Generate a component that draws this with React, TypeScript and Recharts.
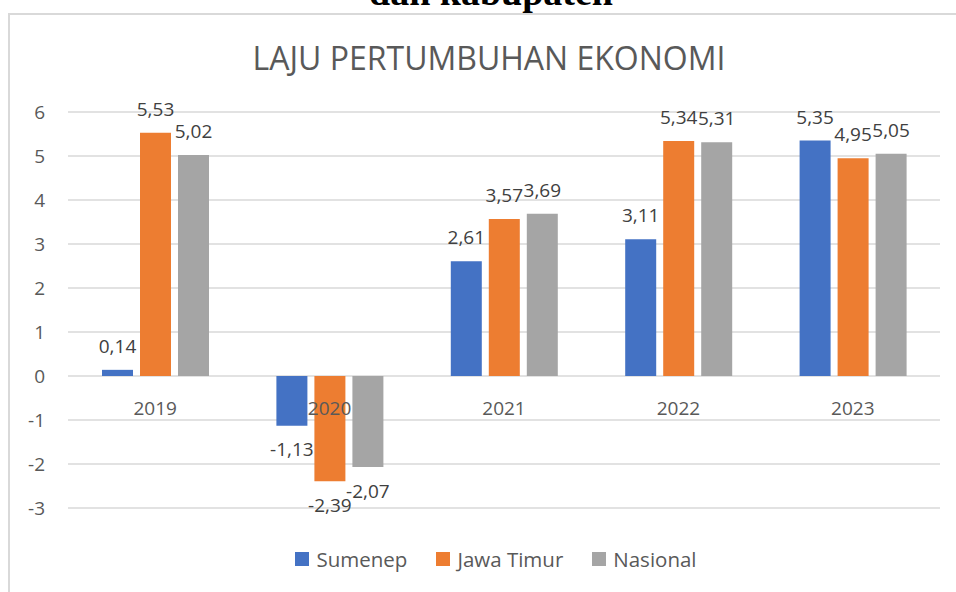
import { BarChart, Bar, XAxis, YAxis, CartesianGrid, Legend, LabelList } from 'recharts';

const years = ['2019', '2020', '2021', '2022', '2023'];
const sumenep = [0.14, -1.13, 2.61, 3.11, 5.35];
const jawaTimur = [5.53, -2.39, 3.57, 5.34, 4.95];
const nasional = [5.02, -2.07, 3.69, 5.31, 5.05];
const yTicks = [-3, -2, -1, 0, 1, 2, 3, 4, 5, 6];

const data = years.map((year, i) => ({
  year,
  Sumenep: sumenep[i],
  'Jawa Timur': jawaTimur[i],
  Nasional: nasional[i],
}));

const FONT = '"Open Sans", "Noto Sans", sans-serif';
const TEXT = '#595959';
const LABEL = '#404040';

// plot area (px) — used to put the year labels just under the zero line
const PLOT_TOP = 112;
const PLOT_BOTTOM = 508;
const Y_MIN = -3;
const Y_MAX = 6;
const zeroY = PLOT_TOP + ((Y_MAX - 0) / (Y_MAX - Y_MIN)) * (PLOT_BOTTOM - PLOT_TOP);

const fmt = (v: any) => Number(v).toFixed(2).replace('.', ',');

const series = [
  { key: 'Sumenep', color: '#4472C4' },
  { key: 'Jawa Timur', color: '#ED7D31' },
  { key: 'Nasional', color: '#A5A5A5' },
];

function YearTick(props: any) {
  const { x, payload } = props;
  return (
    <text x={x} y={zeroY + 39} textAnchor="middle" fill={TEXT} fontSize={19} fontFamily={FONT}>
      {payload.value}
    </text>
  );
}

function LegendContent(props: any) {
  const payload = [...(props.payload || [])].sort(
    (a: any, b: any) =>
      series.findIndex((s) => s.key === a.value) - series.findIndex((s) => s.key === b.value)
  );
  return (
    <div style={{ display: 'flex', justifyContent: 'center', gap: 29, fontFamily: FONT }}>
      {payload.map((p: any) => (
        <div key={p.value} style={{ display: 'flex', alignItems: 'center', gap: 7 }}>
          <span style={{ width: 14, height: 14, background: p.color, display: 'inline-block' }} />
          <span style={{ fontSize: 20.5, color: TEXT, lineHeight: '24px' }}>{p.value}</span>
        </div>
      ))}
    </div>
  );
}

export default function App() {
  return (
    <div
      style={{
        position: 'fixed',
        left: 0,
        top: 0,
        width: 956,
        height: 592,
        overflow: 'hidden',
        background: '#fff',
        fontFamily: FONT,
      }}
    >
      <div
        style={{
          position: 'absolute',
          left: 0,
          width: 956,
          top: -26,
          textAlign: 'center',
          fontFamily: '"Liberation Serif", "DejaVu Serif", serif',
          fontWeight: 'bold',
          fontSize: 38,
          lineHeight: '36px',
          color: '#000',
          paddingLeft: 26,
          boxSizing: 'border-box',
        }}
      >
        dan kabupaten
      </div>
      <div
        style={{
          position: 'absolute',
          left: 8,
          top: 13,
          width: 990,
          height: 620,
          border: '2px solid #d9d9d9',
        }}
      />
      <div
        style={{
          position: 'absolute',
          left: 0,
          top: 41.5,
          width: 978,
          textAlign: 'center',
          fontSize: 32,
          lineHeight: '32px',
          color: TEXT,
        }}
      >
        LAJU PERTUMBUHAN EKONOMI
      </div>
      <div style={{ position: 'absolute', left: 0, top: 0 }}>
        <BarChart
          width={956}
          height={592}
          data={data}
          margin={{ top: PLOT_TOP, right: 16, bottom: 592 - PLOT_BOTTOM - 30, left: 8 }}
          barSize={31}
          barGap={7}
        >
          <CartesianGrid vertical={false} stroke="#d9d9d9" strokeWidth={1.5} />
          <YAxis
            domain={[Y_MIN, Y_MAX]}
            ticks={yTicks}
            interval={0}
            width={60}
            axisLine={false}
            tickLine={false}
            tickSize={0}
            tickMargin={23}
            tick={{ fill: TEXT, fontSize: 19, fontFamily: FONT }}
          />
          {series.map((s) => (
            <Bar key={s.key} dataKey={s.key} fill={s.color} isAnimationActive={false}>
              <LabelList
                dataKey={s.key}
                position="top"
                offset={17}
                formatter={fmt}
                fill={LABEL}
                fontSize={19}
                fontFamily={FONT}
              />
            </Bar>
          ))}
          <XAxis
            dataKey="year"
            height={30}
            axisLine={false}
            tickLine={false}
            tick={<YearTick />}
            interval={0}
          />
          <Legend
            verticalAlign="middle"
            content={<LegendContent />}
            wrapperStyle={{ top: 547, left: 18, width: 956 }}
          />
        </BarChart>
      </div>
    </div>
  );
}
